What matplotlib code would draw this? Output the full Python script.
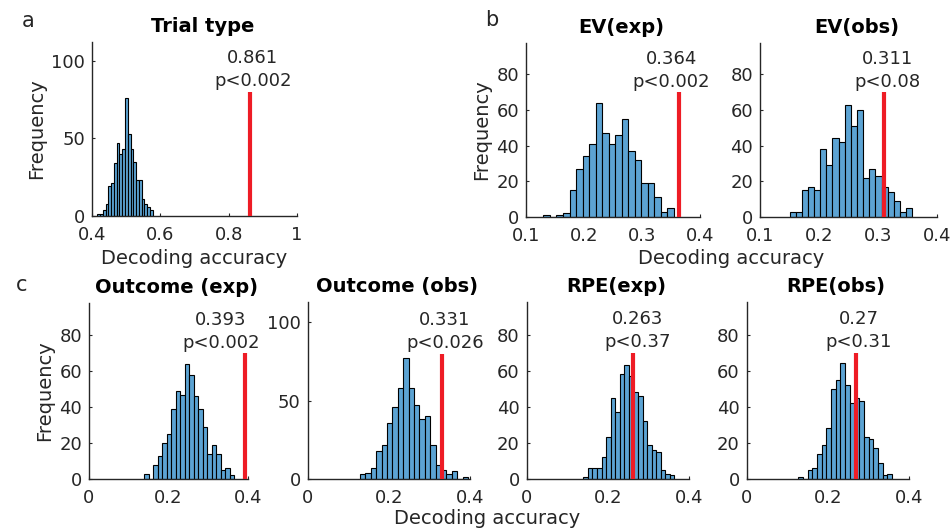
import numpy as np
import matplotlib
matplotlib.use("Agg")
import matplotlib.pyplot as plt

# ---------------- data ----------------
titles = ["Trial type", "EV(exp)", "EV(obs)", "Outcome (exp)", "Outcome (obs)", "RPE(exp)", "RPE(obs)"]

counts_trial = [1, 1, 4, 8, 19, 21, 34, 47, 40, 43, 76, 53, 43, 35, 23, 23, 11, 8, 6, 4]
counts_ev_exp = [1, 0, 1, 2, 15, 27, 34, 41, 64, 47, 41, 46, 55, 37, 32, 19, 19, 11, 3, 5]
counts_ev_obs = [3, 3, 15, 17, 15, 38, 29, 44, 42, 63, 51, 60, 22, 27, 23, 17, 14, 9, 3, 5]
counts_out_exp = [3, 0, 8, 13, 20, 25, 39, 49, 47, 64, 58, 46, 39, 29, 14, 19, 14, 5, 6, 2]
counts_out_obs = [3, 4, 7, 18, 22, 36, 46, 58, 77, 58, 47, 38, 40, 22, 9, 6, 3, 5, 0, 1]
counts_rpe_exp = [1, 6, 6, 6, 12, 23, 45, 37, 58, 63, 57, 48, 46, 32, 19, 16, 15, 5, 3, 2]
counts_rpe_obs = [1, 0, 5, 6, 14, 19, 28, 50, 55, 64, 52, 42, 45, 43, 23, 22, 17, 9, 2, 3]

# histogram bin range (first edge, last edge)
bin_lo = [0.4155, 0.130, 0.150, 0.139, 0.129, 0.1396, 0.1273]
bin_hi = [0.5776, 0.355, 0.358, 0.3655, 0.395, 0.364, 0.358]

observed = [0.861, 0.364, 0.311, 0.393, 0.331, 0.263, 0.27]
pvals = ["p<0.002", "p<0.002", "p<0.08", "p<0.002", "p<0.026", "p<0.37", "p<0.31"]
obs_labels = ["0.861", "0.364", "0.311", "0.393", "0.331", "0.263", "0.27"]
line_top = [80, 70, 70, 70, 80, 70, 70]

all_counts = [counts_trial, counts_ev_exp, counts_ev_obs, counts_out_exp,
              counts_out_obs, counts_rpe_exp, counts_rpe_obs]

# ---------------- layout / style ----------------
W, H = 951, 529
# axes boxes in pixels: left, right, top, bottom
boxes = [(92, 297, 42, 216), (526, 700, 43, 217), (760, 937, 43, 217),
         (89, 248, 303, 479), (307.7, 470, 302, 479), (526.7, 689, 302, 479),
         (746.7, 909, 302, 479)]
xlims = [(0.4, 1.0), (0.1, 0.4), (0.1, 0.4), (0, 0.4), (0, 0.4), (0, 0.4), (0, 0.4)]
xticks = [[0.4, 0.6, 0.8, 1.0], [0.1, 0.2, 0.3, 0.4], [0.1, 0.2, 0.3, 0.4],
          [0, 0.2, 0.4], [0, 0.2, 0.4], [0, 0.2, 0.4], [0, 0.2, 0.4]]
xticklabels = [["0.4", "0.6", "0.8", "1"], ["0.1", "0.2", "0.3", "0.4"], ["0.1", "0.2", "0.3", "0.4"],
               ["0", "0.2", "0.4"], ["0", "0.2", "0.4"], ["0", "0.2", "0.4"], ["0", "0.2", "0.4"]]
ylims = [112, 97.5, 97.5, 98, 113, 98, 98]
yticks = [[0, 50, 100], [0, 20, 40, 60, 80], [0, 20, 40, 60, 80], [0, 20, 40, 60, 80],
          [0, 50, 100], [0, 20, 40, 60, 80], [0, 20, 40, 60, 80]]
text_x = [0.871, 0.351, 0.316, 0.332, 0.338, 0.273, 0.2755]

TXT = "#262626"
BAR = "#5CA3D3"
RED = "#EE1C25"
FS = 13

plt.rcParams["font.family"] = ["DejaVu Sans"]
fig = plt.figure(figsize=(W / 100, H / 100), dpi=100)

for i in range(7):
    l, r, t, b = boxes[i]
    ax = fig.add_axes([l / W, 1 - b / H, (r - l) / W, (b - t) / H])
    counts = np.array(all_counts[i], dtype=float)
    edges = np.linspace(bin_lo[i], bin_hi[i], len(counts) + 1)
    ax.bar(edges[:-1], counts, width=np.diff(edges), align="edge",
           color=BAR, edgecolor="black", linewidth=0.8, zorder=2)
    ax.plot([observed[i], observed[i]], [0, line_top[i]], color=RED, lw=3, zorder=3,
            solid_capstyle="butt")
    ax.annotate(obs_labels[i] + "\n" + pvals[i], xy=(text_x[i], line_top[i]),
                xytext=(0, 1), textcoords="offset points", ha="center", va="bottom",
                fontsize=FS, color=TXT, linespacing=1.35, annotation_clip=False)
    ax.set_xlim(*xlims[i])
    ax.set_ylim(0, ylims[i])
    ax.set_xticks(xticks[i])
    ax.set_xticklabels(xticklabels[i])
    ax.set_yticks(yticks[i])
    for s in ["top", "right"]:
        ax.spines[s].set_visible(False)
    for s in ["left", "bottom"]:
        ax.spines[s].set_color(TXT)
        ax.spines[s].set_linewidth(1.0)
    ax.tick_params(direction="in", length=2.5, width=0.8, colors=TXT, labelsize=FS)
    ax.tick_params(axis="x", pad=7)
    ax.tick_params(axis="y", pad=5)
    ax.set_title(titles[i], fontsize=14, fontweight="bold", color="black",
                 x=0.5 + 8 / (r - l), pad=7)
    if i in (0, 1, 3):
        ax.set_ylabel("Frequency", fontsize=14, color=TXT, labelpad=4)

# axis labels
fig.text(194 / W, 1 - 258 / H, "Decoding accuracy", ha="center", va="center", fontsize=14, color=TXT)
fig.text(731 / W, 1 - 258 / H, "Decoding accuracy", ha="center", va="center", fontsize=14, color=TXT)
fig.text(487 / W, 1 - 518 / H, "Decoding accuracy", ha="center", va="center", fontsize=14, color=TXT)

# panel letters
fig.text(28 / W, 1 - 21 / H, "a", ha="center", va="center", fontsize=15, color=TXT)
fig.text(492 / W, 1 - 20 / H, "b", ha="center", va="center", fontsize=15, color=TXT)
fig.text(22 / W, 1 - 285 / H, "c", ha="center", va="center", fontsize=15, color=TXT)

fig.savefig("out.png", dpi=100)
